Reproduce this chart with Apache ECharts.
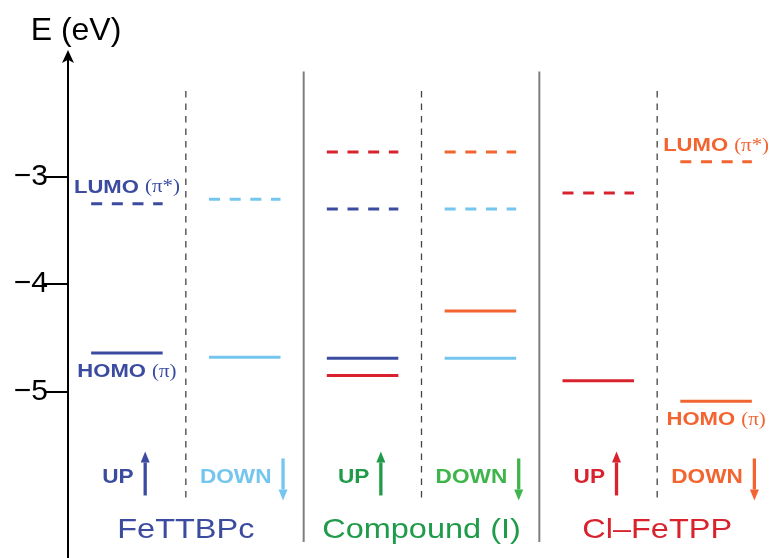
<!DOCTYPE html>
<html><head><meta charset="utf-8">
<script src="https://cdn.jsdelivr.net/npm/echarts@6/dist/echarts.min.js"></script>
<style>html,body{margin:0;padding:0;background:#fff}#c{width:775px;height:558px}</style>
</head><body><div id="c"></div>
<script>
// ---------- data ----------
const groups = ['FeTTBPc', 'Compound (I)', 'Cl–FeTPP'];
const spins = ['UP', 'DOWN'];
const tickValues = [-5, -4, -3];
const tickLabels = ['−5', '−4', '−3'];
// energy levels: column = group*2 + spin
const levelColumn = [0, 0, 1, 1, 2, 2, 2, 2, 3, 3, 3, 3, 4, 4, 5, 5];
const levelEnergy = [-3.25, -4.64, -3.21, -4.68, -2.77, -3.30, -4.69, -4.85, -2.77, -3.30, -4.25, -4.69, -3.15, -4.90, -2.86, -5.09];
const levelSet = ['FeTTBPc UP', 'FeTTBPc UP', 'FeTTBPc DOWN', 'FeTTBPc DOWN',
  'Cl–FeTPP UP', 'FeTTBPc UP', 'FeTTBPc UP', 'Cl–FeTPP UP',
  'Cl–FeTPP DOWN', 'FeTTBPc DOWN', 'Cl–FeTPP DOWN', 'FeTTBPc DOWN',
  'Cl–FeTPP UP', 'Cl–FeTPP UP', 'Cl–FeTPP DOWN', 'Cl–FeTPP DOWN'];
const levelOccupied = [false, true, false, true, false, false, true, true, false, false, true, true, false, true, false, true];
// orbital annotations
const orbitalColumn = [0, 0, 5, 5];
const orbitalEnergy = [-3.25, -4.64, -2.86, -5.09];
const orbitalName = ['LUMO', 'HOMO', 'LUMO', 'HOMO'];
const orbitalSymbol = ['(π*)', '(π)', '(π*)', '(π)'];
const orbitalSet = ['FeTTBPc UP', 'FeTTBPc UP', 'Cl–FeTPP DOWN', 'Cl–FeTPP DOWN'];

// ---------- styles / layout ----------
const FONT = '"Liberation Sans", Arial, Helvetica, sans-serif';
const SERIF = '"Liberation Serif", "DejaVu Serif", serif';
const SX = 1.16;
const setColors = {
  'FeTTBPc UP': '#3b4ba0', 'FeTTBPc DOWN': '#74c6ee',
  'Cl–FeTPP UP': '#d8232f', 'Cl–FeTPP DOWN': '#f26430'
};
const groupColors = ['#3b4ba0', '#1f9b4a', '#d8232f'];
const spinColors = [['#3b4ba0', '#74c6ee'], ['#1f9b4a', '#3db54a'], ['#d8232f', '#f26430']];
const LEVEL_W = 0.607;
const SPIN_ROW_E = -5.80;
const GROUP_ROW_E = -6.29;
const DIV_SOLID = [-2.02, -6.40];
const DIV_DASH = [-2.20, -5.99];
const ARROW_DX = [0.155, 0.325];

const chart = echarts.init(document.getElementById('c'), null, {renderer: 'canvas'});

const levelData = levelColumn.map((c, i) => [c, levelEnergy[i]]);
const dividerData = [[0.5, 0], [1.5, 1], [2.5, 0], [3.5, 1], [4.5, 0]];
const spinData = [0, 1, 2, 3, 4, 5].map(c => [c, SPIN_ROW_E]);
const groupData = groups.map((g, i) => [i * 2 + 0.5, GROUP_ROW_E]);
const orbitalData = orbitalColumn.map((c, i) => [c, orbitalEnergy[i]]);

chart.setOption({
  animation: false,
  backgroundColor: '#fff',
  grid: {left: 68, right: -5, top: 56, bottom: -1, containLabel: false},
  xAxis: {type: 'value', min: -0.5, max: 5.5, show: false},
  yAxis: {
    type: 'value', min: -6.55, max: -1.875,
    name: 'E (eV)', nameLocation: 'end', nameGap: 9,
    nameTextStyle: {fontSize: 32, color: '#000', fontFamily: FONT, padding: [0, 0, 0, 16]},
    axisLine: {show: true, onZero: false, symbol: ['none', 'arrow'], symbolSize: [9, 13], symbolOffset: [0, 6],
      lineStyle: {color: '#000', width: 2}},
    axisTick: {show: true, length: 24, inside: false, customValues: tickValues, lineStyle: {color: '#000', width: 2}},
    axisLabel: {
      show: true, customValues: tickValues, margin: 20, fontSize: 30, color: '#000', fontFamily: FONT,
      padding: [6, 0, 0, 0],
      formatter: v => tickLabels[tickValues.indexOf(v)] || ''
    },
    splitLine: {show: false}
  },
  series: [
    {
      type: 'custom', name: 'dividers', data: dividerData, clip: false, silent: true,
      renderItem(params, api) {
        const x = api.value(0);
        const solid = api.value(1) === 1;
        const ext = solid ? DIV_SOLID : DIV_DASH;
        const p1 = api.coord([x, ext[0]]);
        const p2 = api.coord([x, ext[1]]);
        return {
          type: 'line',
          shape: {x1: p1[0], y1: p1[1], x2: p2[0], y2: p2[1]},
          style: solid ? {stroke: '#7f7f7f', lineWidth: 2}
                       : {stroke: '#444', lineWidth: 1.3, lineDash: [6.5, 6]}
        };
      }
    },
    {
      type: 'custom', name: 'levels', data: levelData, clip: false,
      renderItem(params, api) {
        const i = params.dataIndex;
        const p = api.coord([api.value(0), api.value(1)]);
        const hw = api.size([LEVEL_W, 0])[0] / 2;
        const style = {stroke: setColors[levelSet[i]], lineWidth: 3, lineCap: 'butt'};
        if (!levelOccupied[i]) style.lineDash = [11, 9.67];
        return {type: 'line', shape: {x1: p[0] - hw, y1: p[1], x2: p[0] + hw, y2: p[1]}, style};
      }
    },
    {
      type: 'custom', name: 'orbitals', data: orbitalData, clip: false, silent: true,
      renderItem(params, api) {
        const i = params.dataIndex;
        const p = api.coord([api.value(0), api.value(1)]);
        const above = orbitalName[i] === 'LUMO';
        const col = setColors[orbitalSet[i]];
        return {
          type: 'text', x: p[0], y: p[1] + (above ? -16 : 19), scaleX: SX,
          style: {
            text: '{b|' + orbitalName[i] + '} {p|' + orbitalSymbol[i] + '}',
            align: 'center', verticalAlign: 'middle',
            rich: {
              b: {fontSize: 19, fontWeight: 'bold', fontFamily: FONT, fill: col, color: col},
              p: {fontSize: 18, fontWeight: 'normal', fontFamily: SERIF, fill: col, color: col}
            },
            fontSize: 19, fill: col
          }
        };
      }
    },
    {
      type: 'custom', name: 'spins', data: spinData, clip: false, silent: true,
      renderItem(params, api) {
        const c = params.dataIndex;
        const g = Math.floor(c / 2), s = c % 2;
        const col = spinColors[g][s];
        const p = api.coord([c, api.value(1)]);
        const ax = p[0] + api.size([ARROW_DX[s], 0])[0];
        const y = p[1];
        let tail, tip, base;
        if (s === 0) { tail = y + 18; tip = y - 26; base = tip + 11; }
        else { tail = y - 19; tip = y + 23; base = tip - 11; }
        return {
          type: 'group',
          children: [
            {type: 'text', x: ax - 11.5, y: y, scaleX: SX,
              style: {text: spins[s], fill: col, fontSize: 19.5, fontWeight: 'bold', fontFamily: FONT,
                align: 'right', verticalAlign: 'middle'}},
            {type: 'line', shape: {x1: ax, y1: tail, x2: ax, y2: base}, style: {stroke: col, lineWidth: 3.3}},
            {type: 'polygon', shape: {points: [[ax, tip], [ax - 4.5, base], [ax + 4.5, base]]}, style: {fill: col}}
          ]
        };
      }
    },
    {
      type: 'custom', name: 'groups', data: groupData, clip: false, silent: true,
      renderItem(params, api) {
        const i = params.dataIndex;
        const p = api.coord([api.value(0), api.value(1)]);
        return {
          type: 'text', x: p[0], y: p[1], scaleX: SX,
          style: {text: groups[i], fill: groupColors[i], fontSize: 28, fontFamily: FONT,
            align: 'center', verticalAlign: 'middle'}
        };
      }
    }
  ]
});
</script>
</body></html>
